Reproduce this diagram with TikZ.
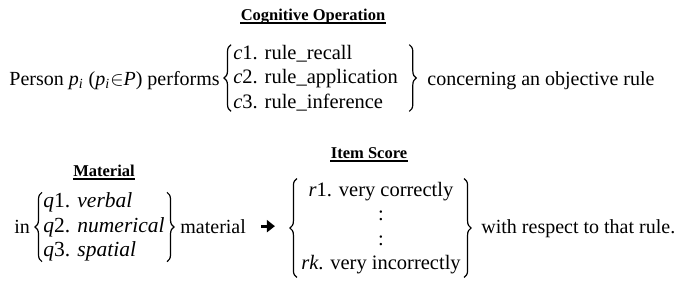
\documentclass[tikz,border=0pt]{standalone}
\usepackage{amsmath}
\usepackage{fontspec}
\setmainfont{Liberation Serif}
\usetikzlibrary{arrows.meta,positioning,decorations.pathreplacing}

\begin{document}
\begin{tikzpicture}[
    x=0.5pt,
    y=-0.5pt,
    txt/.style={inner sep=0pt, anchor=base west, font=\fontsize{10}{12}\selectfont},
    head/.style={inner sep=0pt, anchor=base, font=\fontsize{8.25}{10}\selectfont\bfseries},
    group/.style={inner sep=0pt, font=\fontsize{10.25}{12.25}\selectfont},
    uline/.style={line width=0.75pt},
    brace/.style={decorate, decoration={brace, amplitude=3.5pt}, line width=0.6pt},
    link/.style={-{Triangle[length=4pt,width=6pt]}, line width=1.5pt}
]
\useasboundingbox (0,0) rectangle (687,291);

\node[head] (cogop) at (313,20) {Cognitive Operation};
\node[txt] (person) at (9,85) {Person \textit{p}$_{\textit{i}}$ (\textit{p}$_{\textit{i}}$$\in$\textit{P}) performs};
\node[group, anchor=west, align=left] (ops) at (233,78) {\textit{c}1. rule\_recall\\
    \textit{c}2. rule\_application\\
    \textit{c}3. rule\_inference};
\node[txt] (concern) at (427,85) {concerning an objective rule};

\node[head] (mathead) at (104,176) {Material};
\node[head] (scorehead) at (369,158) {Item Score};
\node[txt] (in) at (14,233) {in};
\node[group, anchor=west, align=left, font=\fontsize{10.75}{12.25}\selectfont] (mats) at (43,227) {\textit{q}1. \textit{verbal}\\
    \textit{q}2. \textit{numerical}\\
    \textit{q}3. \textit{spatial}};
\node[txt] (material) at (180,233) {material};
\node[group, align=center, inner ysep=1.5pt] (scores) at (381,228) {\textit{r}1. very correctly\\
    :\\
    :\\
    \textit{rk}. very incorrectly};
\node[txt] (respect) at (481,233) {with respect to that rule.};

% headings are underlined
\foreach \h in {cogop,mathead,scorehead}
  \draw[uline] ([yshift=-1.6pt]\h.base west) -- ([yshift=-1.6pt]\h.base east);

% braces round the three lists
\draw[brace] ([xshift=-1pt]ops.south west) -- ([xshift=-1pt]ops.north west);
\draw[brace] ([xshift=5.5pt]ops.north east) -- ([xshift=5.5pt]ops.south east);
\draw[brace] ([xshift=-0.5pt]mats.south west) -- ([xshift=-0.5pt]mats.north west);
\draw[brace] ([xshift=1pt]mats.north east) -- ([xshift=1pt]mats.south east);
\draw[brace] ([xshift=-2pt]scores.south west) -- ([xshift=-2pt]scores.north west);
\draw[brace] ([xshift=1.5pt]scores.north east) -- ([xshift=1.5pt]scores.south east);

\draw[link, shorten <=7.5pt, shorten >=13pt] (material.east) -- (material.east -| scores.west);
\end{tikzpicture}
\end{document}
